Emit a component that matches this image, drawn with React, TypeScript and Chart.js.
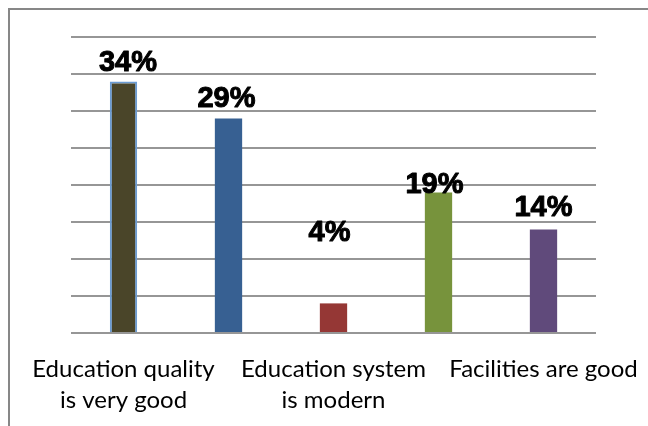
import React, { useEffect, useRef } from "react";
import { Chart, registerables } from "chart.js";

Chart.register(...registerables);

// ---- data ----
const categories: (string | string[])[] = [
  ["Education quality", "is very good"],
  "",
  ["Education system", "is modern"],
  "",
  "Facilities are good",
];
const values: number[] = [34, 29, 4, 19, 14];
const valueLabels: string[] = ["34%", "29%", "4%", "19%", "14%"];
const yMin = 0;
const yMax = 40;
const yStep = 5;

// ---- style ----
const barColors = ["#4a4529", "#376092", "#953735", "#77933c", "#604a7b"];
const barBorderColors = ["#6b9bd2", "#376092", "#953735", "#77933c", "#604a7b"];
const barBorderWidths = [2, 0, 0, 0, 0];
const labelDx = [4.5, -2, -4, -4, 0];
const labelGap = [10, 11, 62, -1, 13];

const valueLabelPlugin = {
  id: "valueLabelPlugin",
  afterDatasetsDraw(chart: any) {
    const ctx = chart.ctx;
    const meta = chart.getDatasetMeta(0);
    ctx.save();
    ctx.font = "bold 29px 'Liberation Sans', Arial, sans-serif";
    ctx.fillStyle = "#000000";
    ctx.strokeStyle = "#000000";
    ctx.lineWidth = 1;
    ctx.lineJoin = "round";
    ctx.textAlign = "center";
    ctx.textBaseline = "alphabetic";
    meta.data.forEach((bar: any, i: number) => {
      const p = bar.getProps(["x", "y"], true);
      const tx = p.x + labelDx[i];
      const ty = p.y - labelGap[i];
      ctx.fillText(valueLabels[i], tx, ty);
      ctx.strokeText(valueLabels[i], tx, ty);
    });
    ctx.restore();
  },
};

export default function App() {
  const canvasRef = useRef<HTMLCanvasElement | null>(null);

  useEffect(() => {
    if (!canvasRef.current) return;
    const chart = new Chart(canvasRef.current, {
      type: "bar",
      data: {
        labels: categories,
        datasets: [
          {
            data: values,
            backgroundColor: barColors,
            borderColor: barBorderColors,
            borderWidth: barBorderWidths,
            barPercentage: 0.26,
            categoryPercentage: 1,
          },
        ],
      },
      options: {
        animation: false,
        responsive: false,
        devicePixelRatio: 1,
        layout: { padding: { left: 61, right: 52, top: 27, bottom: 0 } },
        plugins: {
          legend: { display: false },
          tooltip: { enabled: false },
        },
        scales: {
          x: {
            grid: { display: false, drawTicks: false },
            border: { display: false },
            ticks: {
              autoSkip: false,
              maxRotation: 0,
              minRotation: 0,
              padding: 21,
              color: "#000000",
              font: { family: "Lato, 'Open Sans', sans-serif", size: 24, lineHeight: 1.29 },
            },
            afterFit: (scale: any) => {
              scale.height = 93;
              scale.paddingLeft = 0;
              scale.paddingRight = 0;
            },
          },
          y: {
            min: yMin,
            max: yMax,
            ticks: { display: false, stepSize: yStep },
            grid: { color: "#969696", lineWidth: 2, drawTicks: false },
            border: { display: false },
            afterFit: (scale: any) => {
              scale.width = 0;
              scale.paddingTop = 0;
              scale.paddingBottom = 0;
            },
          },
        },
      },
      plugins: [valueLabelPlugin],
    });
    return () => chart.destroy();
  }, []);

  return (
    <div
      style={{
        position: "fixed",
        left: 8,
        top: 8,
        width: 640,
        height: 418,
        borderLeft: "2px solid #878787",
        borderTop: "2px solid #878787",
        background: "#ffffff",
        boxSizing: "border-box",
      }}
    >
      <canvas ref={canvasRef} width={638} height={416} style={{ display: "block" }} />
    </div>
  );
}
